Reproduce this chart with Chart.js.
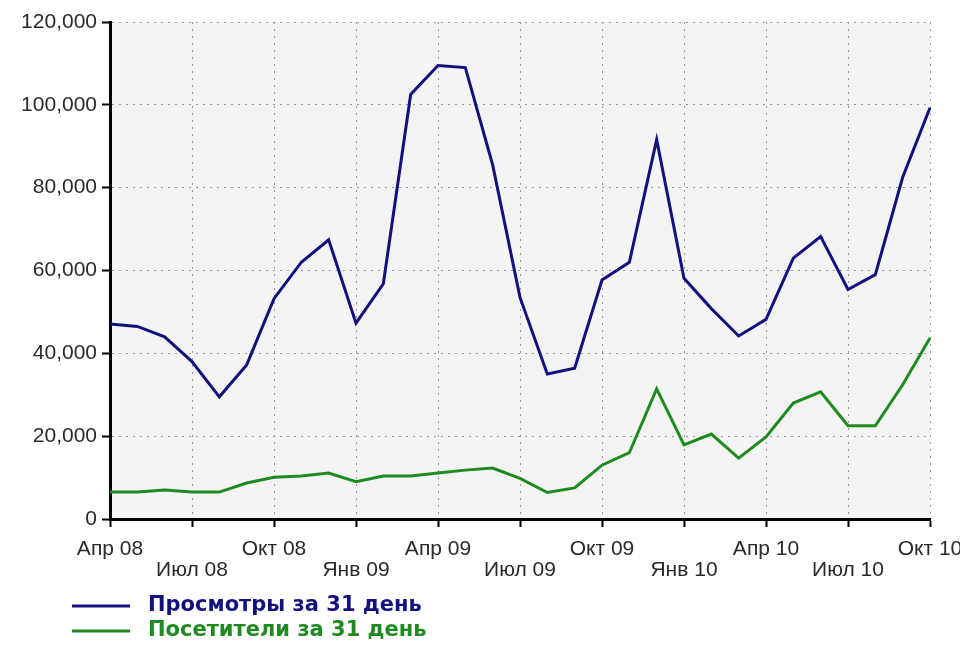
<!DOCTYPE html>
<html>
<head>
<meta charset="utf-8">
<script src="https://cdn.jsdelivr.net/npm/chart.js@4"></script>
<style>
  html, body { margin: 0; padding: 0; background: #fff; }
  canvas { display: block; }
</style>
</head>
<body>
<canvas id="myChart" width="960" height="646"></canvas>
<script>
// months Apr 08 .. Oct 10
const months = [
  'Апр 08', 'Май 08', 'Июн 08', 'Июл 08', 'Авг 08', 'Сен 08', 'Окт 08', 'Ноя 08', 'Дек 08',
  'Янв 09', 'Фев 09', 'Мар 09', 'Апр 09', 'Май 09', 'Июн 09', 'Июл 09', 'Авг 09', 'Сен 09',
  'Окт 09', 'Ноя 09', 'Дек 09', 'Янв 10', 'Фев 10', 'Мар 10', 'Апр 10', 'Май 10', 'Июн 10',
  'Июл 10', 'Авг 10', 'Сен 10', 'Окт 10'
];
const views = [47100, 46500, 44000, 38000, 29500, 37200, 53200, 62000, 67400, 47300, 56800,
  102500, 109500, 109000, 85500, 53500, 35000, 36400, 57700, 62000, 91600, 58100, 50800,
  44200, 48200, 63000, 68200, 55400, 59000, 82500, 99300];
const visitors = [6500, 6500, 7000, 6500, 6500, 8700, 10100, 10400, 11100, 9000, 10400,
  10400, 11100, 11800, 12300, 9800, 6400, 7500, 13000, 16000, 31400, 17900, 20500,
  14700, 19800, 28000, 30700, 22500, 22500, 32400, 43700];
const seriesNames = ['Просмотры за 31 день', 'Посетители за 31 день'];
const yMax = 120000;
const yStep = 20000;

const navy = '#12127e';
const green = '#1f8a1f';
const dotted = [2, 5];

// light grey plot area
const plotBg = {
  id: 'plotBg',
  beforeDraw(chart) {
    const { ctx, chartArea: a } = chart;
    ctx.save();
    ctx.fillStyle = '#f4f4f4';
    ctx.fillRect(a.left, a.top, a.right - a.left, a.bottom - a.top);
    ctx.restore();
  }
};

// legend stacked at the bottom left
const bottomLegend = {
  id: 'bottomLegend',
  afterDraw(chart) {
    const ctx = chart.ctx;
    chart.data.datasets.forEach((ds, i) => {
      const y = 606 + i * 25;
      ctx.save();
      ctx.strokeStyle = ds.borderColor;
      ctx.lineWidth = 3;
      ctx.beginPath();
      ctx.moveTo(72, y);
      ctx.lineTo(130, y);
      ctx.stroke();
      ctx.fillStyle = ds.borderColor;
      ctx.font = 'bold 21px "DejaVu Sans"';
      ctx.textBaseline = 'middle';
      ctx.fillText(ds.label, 148, y);
      ctx.restore();
    });
  }
};

const tickFont = { family: 'Liberation Sans', size: 21, lineHeight: 1.0 };

let line = document.getElementById('myChart').getContext('2d');
let myLineChart = new Chart(line, {
  type: 'line',
  data: {
    labels: months,
    datasets: [{
      label: seriesNames[0],
      data: views,
      borderColor: navy,
      backgroundColor: navy,
      borderWidth: 3,
      pointRadius: 0,
      fill: false,
      tension: 0
    }, {
      label: seriesNames[1],
      data: visitors,
      borderColor: green,
      backgroundColor: green,
      borderWidth: 3,
      pointRadius: 0,
      fill: false,
      tension: 0
    }]
  },
  options: {
    responsive: false,
    animation: false,
    layout: { padding: { top: 22, right: 30, left: 0, bottom: 0 } },
    plugins: {
      legend: { display: false },
      tooltip: { enabled: false }
    },
    scales: {
      x: {
        grid: {
          color: c => c.index % 3 === 0 ? '#999' : 'transparent',
          tickColor: c => c.index % 3 === 0 ? '#000' : 'transparent',
          tickWidth: 2,
          tickLength: 8
        },
        border: { color: '#000', width: 3, dash: dotted },
        ticks: {
          autoSkip: false,
          maxRotation: 0,
          padding: 12,
          color: '#2a2a2a',
          font: tickFont,
          callback: (v, i) => {
            if (i % 6 === 0) return months[i];
            if (i % 6 === 3) return ['', months[i]];
            return '';
          }
        },
        afterFit(s) {
          s.paddingLeft = 0;
          s.paddingRight = 0;
          s.height = 127;
        }
      },
      y: {
        min: 0,
        max: yMax,
        grid: { color: '#999', tickColor: '#000', tickWidth: 2, tickLength: 8 },
        border: { color: '#000', width: 3, dash: dotted },
        ticks: {
          stepSize: yStep,
          padding: 5,
          color: '#2a2a2a',
          font: tickFont,
          callback: v => v.toLocaleString('en-US')
        },
        afterFit(s) {
          s.width = 110;
        }
      }
    }
  },
  plugins: [plotBg, bottomLegend]
});
</script>
</body>
</html>
